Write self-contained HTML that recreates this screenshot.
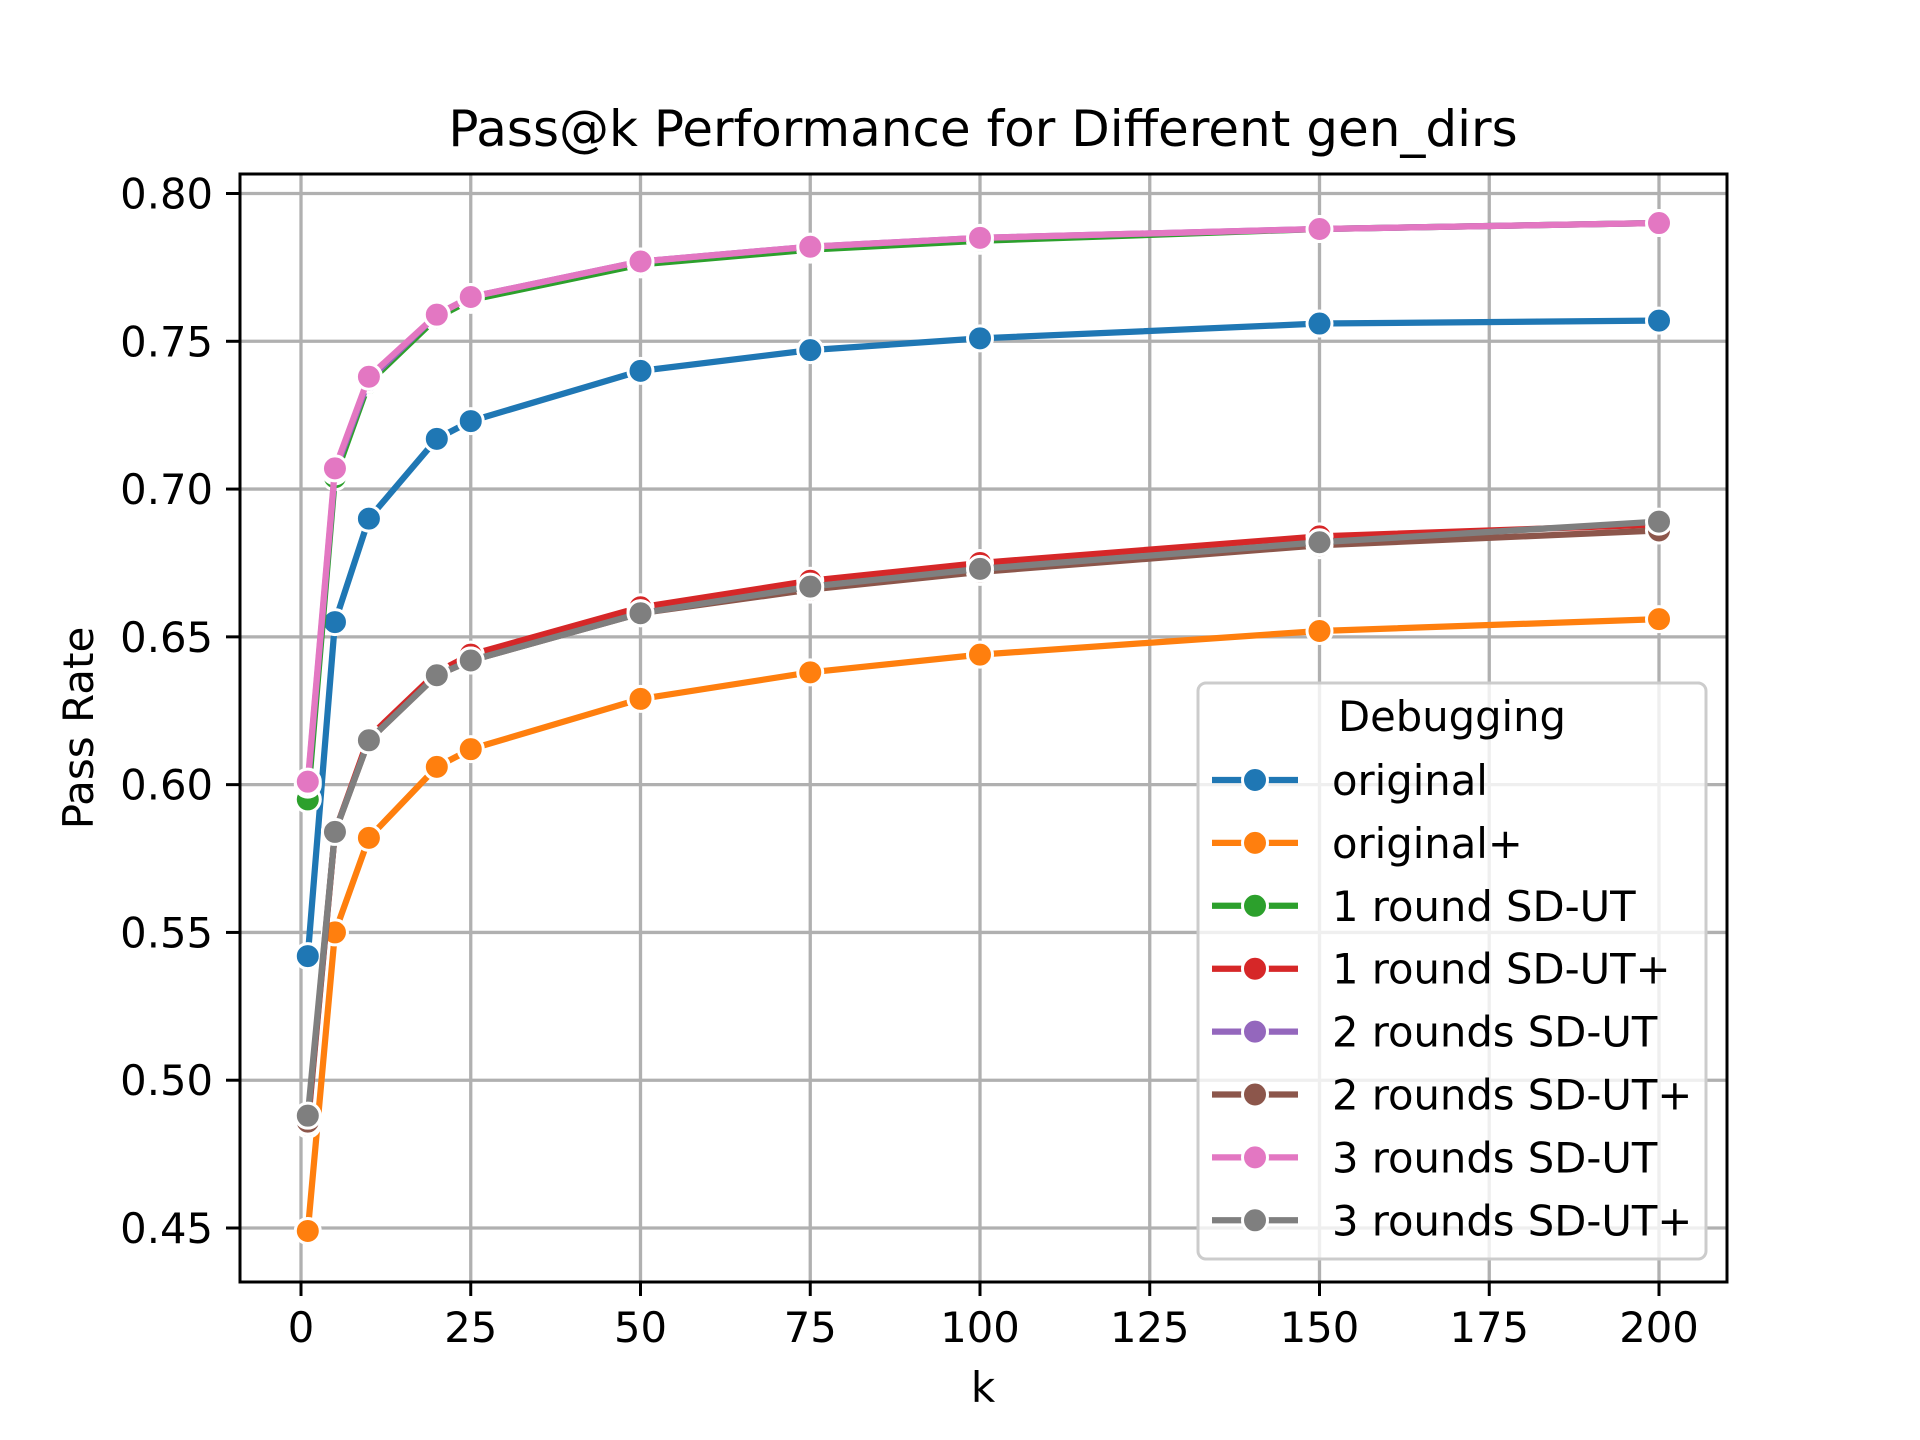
<!DOCTYPE html>
<html><head><meta charset="utf-8">
<style>html,body{margin:0;padding:0;background:#fff}svg{display:block}text{font-family:"DejaVu Sans","Liberation Sans",sans-serif;fill:#000}</style>
</head><body>
<svg id="chart" width="1920" height="1440" viewBox="0 0 1920 1440" xmlns="http://www.w3.org/2000/svg">
<text x="983" y="146" font-size="50" text-anchor="middle">Pass@k Performance for Different gen_dirs</text>
<g id="grid"></g>
<g id="series"></g>
<rect x="240" y="174" width="1487" height="1108" fill="none" stroke="#000" stroke-width="3"/>
<g id="ticks"></g>
<text x="983" y="1402" font-size="42" text-anchor="middle">k</text>
<text transform="translate(93,728) rotate(-90)" font-size="42" text-anchor="middle">Pass Rate</text>
<g id="legend"></g>
</svg>
<script>
const kValues = [1,5,10,20,25,50,75,100,150,200];
const seriesNames = ["original","original+","1 round SD-UT","1 round SD-UT+","2 rounds SD-UT","2 rounds SD-UT+","3 rounds SD-UT","3 rounds SD-UT+"];
const seriesColors = ["#1f77b4","#ff7f0e","#2ca02c","#d62728","#9467bd","#8c564b","#e377c2","#7f7f7f"];
const sOriginal = [0.542,0.655,0.690,0.717,0.723,0.740,0.747,0.751,0.756,0.757];
const sOriginalPlus = [0.449,0.550,0.582,0.606,0.612,0.629,0.638,0.644,0.652,0.656];
const s1Round = [0.595,0.704,0.736,0.758,0.764,0.776,0.781,0.784,0.788,0.790];
const s1RoundPlus = [0.485,0.584,0.616,0.638,0.644,0.660,0.669,0.675,0.684,0.688];
const s2Round = [0.600,0.706,0.737,0.759,0.765,0.777,0.782,0.785,0.788,0.790];
const s2RoundPlus = [0.486,0.584,0.615,0.637,0.642,0.658,0.666,0.672,0.681,0.686];
const s3Round = [0.601,0.707,0.738,0.759,0.765,0.777,0.782,0.785,0.788,0.790];
const s3RoundPlus = [0.488,0.584,0.615,0.637,0.642,0.658,0.667,0.673,0.682,0.689];
const xTicks = [0,25,50,75,100,125,150,175,200];
const yTicks = [0.45,0.50,0.55,0.60,0.65,0.70,0.75,0.80];
const yTickLabels = ["0.45","0.50","0.55","0.60","0.65","0.70","0.75","0.80"];

const NS="http://www.w3.org/2000/svg";
const X0=301, X1=1659, Y80=193.5, Y45=1228;
const xs=v=>X0+(v-0)*(X1-X0)/200;
const ys=v=>Y45+(v-0.45)*(Y80-Y45)/0.35;
function mk(tag,attrs,parent){const e=document.createElementNS(NS,tag);for(const k in attrs)e.setAttribute(k,attrs[k]);parent.appendChild(e);return e;}
const grid=document.getElementById('grid'), ticks=document.getElementById('ticks');
xTicks.forEach((t,i)=>{
  const g=mk('line',{x1:xs(t),x2:xs(t),y1:174,y2:1282,stroke:'#b0b0b0','stroke-width':3.3},grid);
  
  
  const tk=mk('line',{x1:xs(t),x2:xs(t),y1:1282,y2:1296,stroke:'#000','stroke-width':3},ticks);
  
  
  const tl=mk('text',{x:xs(t),y:1342,'font-size':41.7,'text-anchor':'middle'},ticks);
  tl.textContent=String(t);
  
  
});
yTicks.forEach((t,i)=>{
  const g=mk('line',{x1:240,x2:1727,y1:ys(t),y2:ys(t),stroke:'#b0b0b0','stroke-width':3.3},grid);
  
  
  const tk=mk('line',{x1:226,x2:240,y1:ys(t),y2:ys(t),stroke:'#000','stroke-width':3},ticks);
  
  
  const tl=mk('text',{x:213,y:ys(t)+15,'font-size':41.7,'text-anchor':'end'},ticks);
  tl.textContent=yTickLabels[i];
  
  
});
const allSeries=[sOriginal,sOriginalPlus,s1Round,s1RoundPlus,s2Round,s2RoundPlus,s3Round,s3RoundPlus];
const sg=document.getElementById('series');
allSeries.forEach((vals,si)=>{
  const g=mk('g',{},sg);
  
  
  const pts=vals.map((v,i)=>xs(kValues[i])+','+ys(v)).join(' ');
  const pl=mk('polyline',{points:pts,fill:'none',stroke:seriesColors[si],'stroke-width':6.25,'stroke-linejoin':'round'},g);
  
  
  vals.forEach((v,i)=>{
    const c=mk('circle',{cx:xs(kValues[i]),cy:ys(v),r:12.5,fill:seriesColors[si],stroke:'#fff','stroke-width':3},g);
    
    
  });
});
const lg=document.getElementById('legend');
const box=mk('rect',{x:1198,y:683,width:508,height:576,rx:8,fill:'#fff','fill-opacity':0.8,stroke:'#cccccc','stroke-width':3},lg);


const lt=mk('text',{x:1452,y:731,'font-size':41.7,'text-anchor':'middle'},lg);
lt.textContent='Debugging';


seriesNames.forEach((n,i)=>{
  const y=780+i*62.9;
  const g=mk('g',{},lg);
  
  
  mk('line',{x1:1212,x2:1298,y1:y,y2:y,stroke:seriesColors[i],'stroke-width':6.25},g);
  mk('circle',{cx:1255,cy:y,r:12.5,fill:seriesColors[i],stroke:'#fff','stroke-width':3},g);
  const t=mk('text',{x:1332,y:y+15,'font-size':41.7},g);
  t.textContent=n;
});
</script>
</body></html>
